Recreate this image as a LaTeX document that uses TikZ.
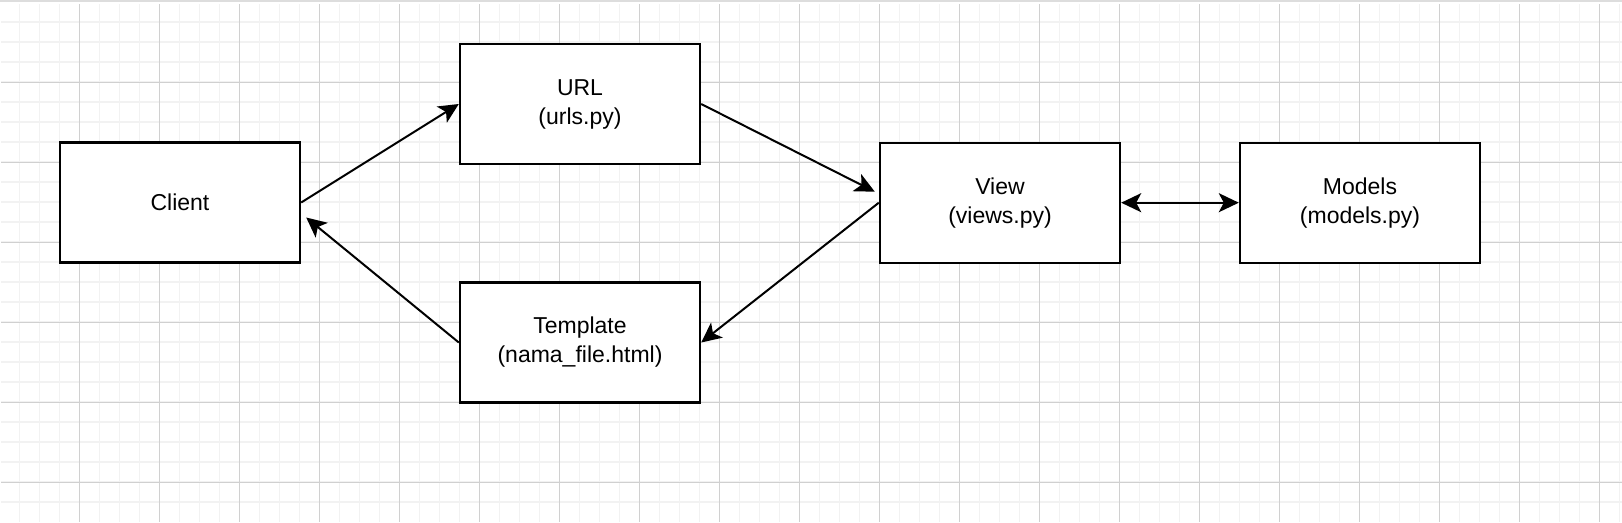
\documentclass[tikz,border=0pt]{standalone}
\usepackage{fontspec}
\setmainfont{Liberation Sans}
\usetikzlibrary{arrows.meta}
\definecolor{minorc}{HTML}{F2F2F2}
\definecolor{majorc}{HTML}{D0D0D0}
\definecolor{bandc}{HTML}{DDDDDD}
\begin{document}
\begin{tikzpicture}[x=1pt,y=-1pt,
  box/.style={draw=black,line width=2.4pt,fill=white,minimum width=240pt,minimum height=120pt,
    inner sep=0pt,align=center,font=\fontsize{23}{29}\selectfont},
  conn/.style={line width=2pt,-{Stealth[length=20pt,width=19pt,inset=5pt]}},
  biconn/.style={line width=2pt,{Stealth[length=20pt,width=19pt,inset=5pt]}-{Stealth[length=20pt,width=19pt,inset=5pt]}},
  minorline/.style={minorc,line width=1.3pt},
  majorline/.style={majorc,line width=1pt}]
\useasboundingbox (0,0) rectangle (1622,522);
\fill[white] (0,0) rectangle (1622,522);
\fill[bandc] (0,0) rectangle (1622,2);
% grid
\foreach \x in {19.5,39.5,...,1619.5} \draw[minorline] (\x,4) -- (\x,522);
\foreach \y in {22,42,...,502} \draw[minorline] (1,\y) -- (1622,\y);
\foreach \x in {79.5,159.5,...,1599.5} \draw[majorline] (\x,4) -- (\x,522);
\foreach \y in {82,162,...,482} \draw[majorline] (1,\y) -- (1622,\y);
% boxes
\node[box] (client) at (180,202.5) {Client};
\node[box] (url) at (580,104) {URL\\(urls.py)};
\node[box] (tmpl) at (580,342.5) {Template\\(nama\_file.html)};
\node[box] (view) at (1000,202.7) {View\\(views.py)};
\node[box] (models) at (1360,202.7) {Models\\(models.py)};
% connectors
\draw[conn] (client.east) -- (url.west);
\draw[conn] (url.east) -- ([xshift=-4pt,yshift=11pt]view.west);
\draw[conn] (view.west) -- (tmpl.east);
\draw[conn] (tmpl.west) -- ([xshift=5pt,yshift=-15pt]client.east);
\draw[biconn] (view.east) -- (models.west);
\end{tikzpicture}
\end{document}
